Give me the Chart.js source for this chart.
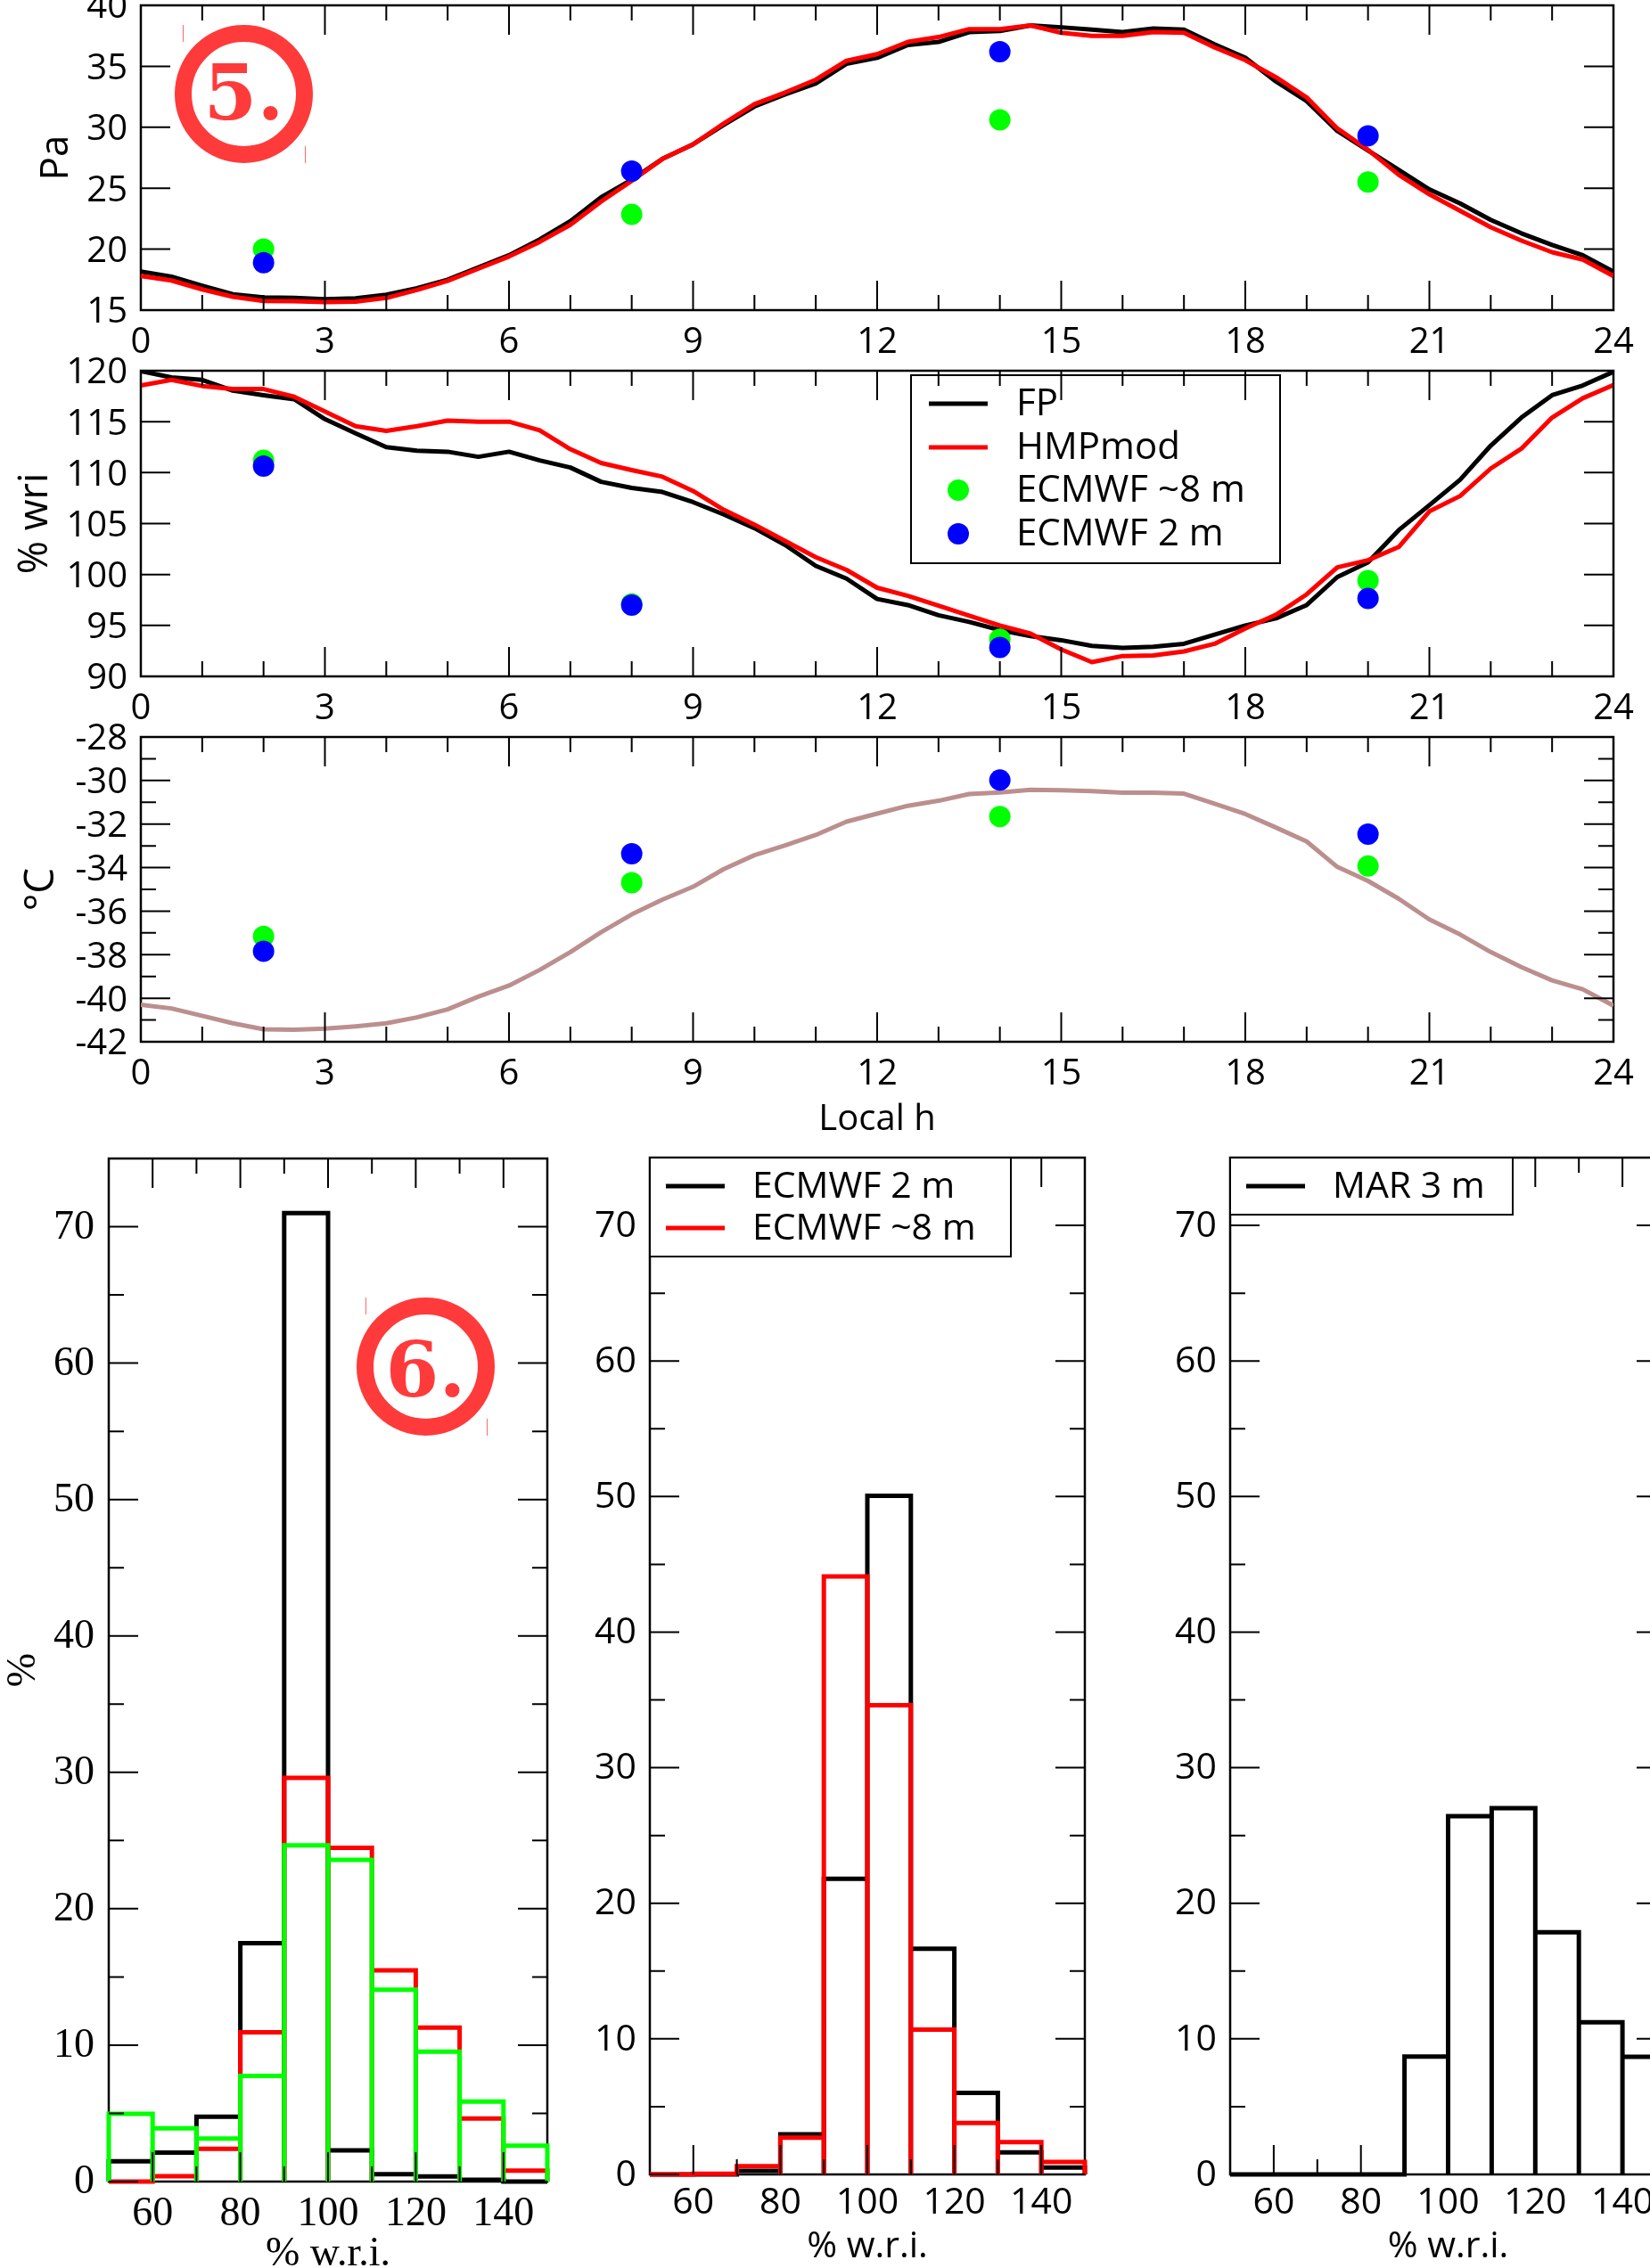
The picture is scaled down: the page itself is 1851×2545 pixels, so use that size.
<!DOCTYPE html>
<html>
<head>
<meta charset="utf-8">
<title>Diurnal cycle and histograms</title>
<script src="https://cdn.jsdelivr.net/npm/chart.js@4"></script>
<style>
    html, body { margin: 0; padding: 0; background: #fff; width: 1851px; height: 2545px; overflow: hidden; }
    canvas { position: absolute; }
    .badge {
        position: absolute; width: 155px; height: 155px; box-sizing: border-box;
        border: 19px solid #ff3a3a; border-radius: 50%; color: #ff3a3a;
        font: bold 86px "DejaVu Serif"; text-align: center;
    }
    .mark { position: absolute; width: 1px; height: 19px; background: #ff6a6a; }
</style>
</head>
<body>
<div class="badge" style="left:196px;top:28px;line-height:113px">5.</div>
<div class="mark" style="left:205px;top:28px"></div>
<div class="mark" style="left:342px;top:164px"></div>
<div class="badge" style="left:400px;top:1456px;line-height:123px">6.</div>
<div class="mark" style="left:410px;top:1456px"></div>
<div class="mark" style="left:546px;top:1592px"></div>
<script>
// half hourly series
const hours = [0,0.5,1,1.5,2,2.5,3,3.5,4,4.5,5,5.5,6,6.5,7,7.5,8,8.5,9,9.5,10,10.5,11,11.5,12,12.5,13,13.5,14,14.5,15,15.5,16,16.5,17,17.5,18,18.5,19,19.5,20,20.5,21,21.5,22,22.5,23,23.5,24];
const ecmwfHours = [2,8,14,20];

const paFP = [18.16,17.75,17.0,16.3,16.05,16.0,15.9,15.97,16.27,16.8,17.5,18.5,19.5,20.8,22.3,24.25,25.7,27.4,28.6,30.2,31.7,32.7,33.6,35.2,35.7,36.75,37.0,37.8,37.9,38.35,38.2,38.0,37.8,38.1,38.0,36.8,35.7,33.75,32.15,29.7,28.1,26.5,24.9,23.75,22.4,21.3,20.35,19.5,18.15];
const paHMP = [17.8,17.43,16.7,16.1,15.75,15.73,15.66,15.7,16.0,16.65,17.4,18.4,19.4,20.6,22.0,23.9,25.6,27.4,28.6,30.3,31.9,32.85,33.9,35.45,36.0,37.0,37.4,38.05,38.05,38.35,37.75,37.5,37.5,37.8,37.75,36.55,35.5,34.1,32.45,29.9,28.15,26.1,24.5,23.15,21.8,20.7,19.75,19.15,17.8];
const paGreen = [20.0,22.85,30.6,25.5];
const paBlue = [18.9,26.4,36.2,29.3];

const rhFP = [119.95,119.35,119.1,118.05,117.6,117.2,115.25,113.85,112.5,112.15,112.05,111.55,112.05,111.2,110.5,109.1,108.5,108.1,107.1,105.9,104.55,102.9,100.85,99.6,97.6,97.0,96.0,95.35,94.55,93.95,93.55,93.0,92.8,92.9,93.2,94.1,95.0,95.7,97.0,99.75,101.2,104.35,106.8,109.3,112.65,115.4,117.6,118.55,119.9];
const rhHMP = [118.55,119.1,118.5,118.2,118.2,117.45,116.0,114.55,114.1,114.55,115.1,115.0,115.0,114.15,112.3,110.95,110.25,109.6,108.2,106.35,104.9,103.3,101.7,100.45,98.7,97.9,96.95,95.95,95.0,94.2,92.65,91.4,92.0,92.05,92.45,93.2,94.7,96.05,98.05,100.7,101.4,102.7,106.2,107.7,110.4,112.35,115.4,117.3,118.6];
const rhGreen = [111.2,97.1,93.65,99.4];
const rhBlue = [110.65,97.0,92.85,97.65];

const tempFP = [-40.3,-40.47,-40.81,-41.15,-41.43,-41.45,-41.4,-41.29,-41.15,-40.88,-40.51,-39.93,-39.42,-38.7,-37.88,-36.97,-36.15,-35.47,-34.88,-34.07,-33.43,-32.98,-32.5,-31.89,-31.52,-31.16,-30.93,-30.62,-30.55,-30.43,-30.45,-30.49,-30.56,-30.56,-30.6,-31.07,-31.54,-32.16,-32.8,-33.97,-34.61,-35.43,-36.38,-37.07,-37.88,-38.57,-39.18,-39.59,-40.34];
const tempGreen = [-37.16,-34.69,-31.65,-33.93];
const tempBlue = [-37.84,-33.36,-29.98,-32.46];

// histograms, 10 % w.r.i. bins from 50 to 150
const binEdges = [50,60,70,80,90,100,110,120,130,140,150];
const histAFP = [1.48,2.12,4.76,17.47,71.0,2.28,0.54,0.38,0.13,0];
const histAHMP = [0,0.4,2.4,10.94,29.6,24.46,15.48,11.29,4.62,0.8];
const histAGreen = [4.97,3.9,3.15,7.74,24.65,23.58,14.06,9.52,5.86,2.63];
const histB2m = [0,0,0.27,2.95,21.8,50.05,16.64,6.02,1.63,0.51];
const histB8m = [0,0.05,0.6,2.71,44.1,34.6,10.68,3.79,2.38,0.92];
const histCMar = [0,0,0,0,8.7,26.42,27.02,17.86,11.22,8.67];

// tick labels
const hourMajor = [0,3,6,9,12,15,18,21,24];
const hourMinor = [1,2,4,5,7,8,10,11,13,14,16,17,19,20,22,23];
const paTicks = [15,20,25,30,35,40];
const rhTicks = [90,95,100,105,110,115,120];
const tempMajor = [-42,-40,-38,-36,-34,-32,-30,-28];
const tempMinor = [-41,-39,-37,-35,-33,-31,-29];
const wriMajor = [60,80,100,120,140];
const wriMinor = [70,90,110,130];
const pctMajor = [0,10,20,30,40,50,60,70];
const pctMinor = [5,15,25,35,45,55,65];

const legendLabels = ['FP','HMPmod','ECMWF ~8 m','ECMWF 2 m'];
const legendLabelsB = ['ECMWF 2 m','ECMWF ~8 m'];
const legendLabelsC = ['MAR 3 m'];

const BLACK = '#000000', RED = '#ff0000', GREEN = '#00ff00', BLUE = '#0000ff', ROSY = '#bc8f8f';
const SANS = '"Open Sans"', SERIF = '"Liberation Serif"';

// line through the half hourly values
function lineSet(label, values, color, order) {
    return {
        label: label, order: order, showLine: true, pointRadius: 0,
        data: hours.map((h, i) => ({ x: h, y: values[i] })),
        borderColor: color, borderWidth: 5, borderJoinStyle: 'round'
    };
}

function dotSet(label, values, color, order) {
    return {
        label: label, order: order, showLine: false, pointRadius: 12, pointBorderWidth: 0,
        data: ecmwfHours.map((h, i) => ({ x: h, y: values[i] })),
        backgroundColor: color, borderColor: color, clip: false
    };
}

// outline of a histogram with the drop lines between the bins
function histSet(label, values, color, order) {
    const points = [{ x: binEdges[0], y: 0 }];
    values.forEach((v, i) => {
        points.push({ x: binEdges[i], y: v }, { x: binEdges[i + 1], y: v }, { x: binEdges[i + 1], y: 0 });
    });
    return {
        label: label, order: order, showLine: true, pointRadius: 0, data: points,
        borderColor: color, borderWidth: 5, borderJoinStyle: 'miter', clip: false
    };
}

// frame, inward ticks on the four sides and the boxed legend
const framePlugin = {
    id: 'frame',
    beforeDatasetsDraw(chart, args, opts) {
        const a = chart.chartArea, ctx = chart.ctx;
        ctx.save();
        ctx.strokeStyle = BLACK;
        ctx.lineWidth = 2.5;
        ctx.strokeRect(a.left, a.top, a.right - a.left, a.bottom - a.top);
        ctx.restore();
    },
    afterDatasetsDraw(chart, args, opts) {
        const a = chart.chartArea, ctx = chart.ctx;
        const xs = chart.scales.x, ys = chart.scales.y;
        ctx.save();
        ctx.strokeStyle = BLACK;
        ctx.lineWidth = 2;
        function xTicks(list, len) {
            list.forEach(v => {
                const p = xs.getPixelForValue(v);
                ctx.beginPath();
                ctx.moveTo(p, a.top); ctx.lineTo(p, a.top + len);
                ctx.moveTo(p, a.bottom); ctx.lineTo(p, a.bottom - len);
                ctx.stroke();
            });
        }
        function yTicks(list, len) {
            list.forEach(v => {
                const p = ys.getPixelForValue(v);
                ctx.beginPath();
                ctx.moveTo(a.left, p); ctx.lineTo(a.left + len, p);
                ctx.moveTo(a.right, p); ctx.lineTo(a.right - len, p);
                ctx.stroke();
            });
        }
        xTicks(opts.xMajor, 33);
        xTicks(opts.xMinor, 17);
        yTicks(opts.yMajor, 33);
        yTicks(opts.yMinor, 17);
        ctx.restore();
        if (opts.legend) drawLegend(chart, opts.legend);
    }
};

function drawLegend(chart, lg) {
    const ctx = chart.ctx, a = chart.chartArea;
    const x = a.left + lg.dx, y = a.top + lg.dy;
    ctx.save();
    if (lg.fill) {
        ctx.fillStyle = '#fff';
        ctx.fillRect(x, y, lg.w, lg.h);
    }
    ctx.strokeStyle = BLACK;
    ctx.lineWidth = 2;
    ctx.strokeRect(x, y, lg.w, lg.h);
    ctx.font = lg.size + 'px ' + SANS;
    ctx.textBaseline = 'middle';
    lg.labels.forEach((text, i) => {
        const item = lg.items[i], yy = y + lg.rows[i];
        if (item.dot) {
            ctx.fillStyle = item.color;
            ctx.beginPath();
            ctx.arc(x + lg.lineX + lg.lineW / 2, yy, 12, 0, Math.PI * 2);
            ctx.fill();
        } else {
            ctx.strokeStyle = item.color;
            ctx.lineWidth = 5;
            ctx.beginPath();
            ctx.moveTo(x + lg.lineX, yy);
            ctx.lineTo(x + lg.lineX + lg.lineW, yy);
            ctx.stroke();
        }
        ctx.fillStyle = BLACK;
        ctx.fillText(text, x + lg.textX, yy + 1);
    });
    ctx.restore();
}

function makePanel(p) {
    const canvas = document.createElement('canvas');
    const box = p.box, plot = p.plot;
    canvas.width = box.w;
    canvas.height = box.h;
    canvas.style.left = box.x + 'px';
    canvas.style.top = box.y + 'px';
    document.body.insertBefore(canvas, document.body.firstChild);
    const font = { family: p.family, size: p.size };
    const lineH = p.size * 1.2;
    return new Chart(canvas, {
        type: 'scatter',
        data: { datasets: p.datasets },
        plugins: [framePlugin],
        options: {
            responsive: false,
            animation: false,
            devicePixelRatio: 1,
            layout: { autoPadding: false, padding: { left: 0, bottom: 0, top: plot.top - box.y, right: box.x + box.w - plot.right } },
            plugins: {
                legend: { display: false },
                tooltip: { enabled: false },
                frame: { xMajor: p.xMajor, xMinor: p.xMinor, yMajor: p.yMajor, yMinor: p.yMinor, legend: p.legend }
            },
            scales: {
                x: {
                    type: 'linear', min: p.xMin, max: p.xMax,
                    grid: { display: false, drawTicks: false }, border: { display: false },
                    afterBuildTicks: s => { s.ticks = p.xLabels.map(v => ({ value: v })); },
                    afterFit: s => { s.height = box.y + box.h - plot.bottom; s.paddingLeft = 0; s.paddingRight = 0; },
                    ticks: { autoSkip: false, maxRotation: 0, minRotation: 0, color: BLACK, font: font, padding: p.xPad, callback: v => String(v) },
                    title: p.xTitle ? {
                        display: true, text: p.xTitle, color: BLACK, font: font,
                        padding: { top: 0, bottom: box.y + box.h - p.xTitleY - lineH / 2 }
                    } : { display: false }
                },
                y: {
                    type: 'linear', min: p.yMin, max: p.yMax,
                    grid: { display: false, drawTicks: false }, border: { display: false },
                    afterBuildTicks: s => { s.ticks = p.yMajor.map(v => ({ value: v })); },
                    afterFit: s => { s.width = plot.left - box.x; s.paddingTop = 0; s.paddingBottom = 0; },
                    ticks: { autoSkip: false, color: BLACK, font: font, padding: p.yPad, labelOffset: p.yLabelOffset, callback: v => String(v) },
                    title: p.yTitle ? {
                        display: true, text: p.yTitle, color: BLACK, font: { family: p.family, size: p.yTitleSize || p.size },
                        padding: { top: p.yTitleX - box.x - (p.yTitleSize || p.size) * 0.6, bottom: 0 }
                    } : { display: false }
                }
            }
        }
    });
}

const topCommon = {
    family: SANS, size: 40, xMin: 0, xMax: 24, xLabels: hourMajor, xMajor: hourMajor, xMinor: hourMinor, xPad: 13, yPad: 15, yLabelOffset: 3
};

makePanel(Object.assign({}, topCommon, {
    box: { x: 0, y: 0, w: 1851, h: 410 },
    plot: { left: 158, right: 1810, top: 6, bottom: 348 },
    yMin: 15, yMax: 40, yMajor: paTicks, yMinor: [],
    yTitle: 'Pa', yTitleX: 63, yTitleSize: 44,
    datasets: [
        lineSet('FP', paFP, BLACK, 4), lineSet('HMPmod', paHMP, RED, 3),
        dotSet('ECMWF ~8 m', paGreen, GREEN, 2), dotSet('ECMWF 2 m', paBlue, BLUE, 1)
    ]
}));

makePanel(Object.assign({}, topCommon, {
    box: { x: 0, y: 380, w: 1851, h: 440 },
    plot: { left: 158, right: 1810, top: 416, bottom: 759 },
    yMin: 90, yMax: 120, yMajor: rhTicks, yMinor: [],
    yTitle: '% wri', yTitleX: 40, yTitleSize: 45,
    legend: {
        labels: legendLabels, dx: 864, dy: 5, w: 414, h: 211, fill: false, size: 42,
        lineX: 20, lineW: 66, textX: 118, rows: [32, 81, 129, 178],
        items: [{ color: BLACK }, { color: RED }, { color: GREEN, dot: true }, { color: BLUE, dot: true }]
    },
    datasets: [
        lineSet('FP', rhFP, BLACK, 4), lineSet('HMPmod', rhHMP, RED, 3),
        dotSet('ECMWF ~8 m', rhGreen, GREEN, 2), dotSet('ECMWF 2 m', rhBlue, BLUE, 1)
    ]
}));

makePanel(Object.assign({}, topCommon, {
    box: { x: 0, y: 790, w: 1851, h: 490 },
    plot: { left: 158, right: 1810, top: 827, bottom: 1169 },
    yMin: -42, yMax: -28, yMajor: tempMajor, yMinor: tempMinor,
    yTitle: '°C', yTitleX: 47, yTitleSize: 46,
    xTitle: 'Local h', xTitleY: 1257,
    datasets: [
        lineSet('FP', tempFP, ROSY, 3),
        dotSet('ECMWF ~8 m', tempGreen, GREEN, 2), dotSet('ECMWF 2 m', tempBlue, BLUE, 1)
    ]
}));

const histCommon = {
    xMin: 50, xMax: 150, xLabels: wriMajor, xMajor: wriMajor, xMinor: wriMinor,
    yMin: 0, yMax: 75, yMajor: pctMajor, yMinor: pctMinor, xTitle: '% w.r.i.', yLabelOffset: 1
};

makePanel(Object.assign({}, histCommon, {
    family: SERIF, size: 46, xPad: 9, yPad: 16,
    box: { x: 0, y: 1270, w: 640, h: 1275 },
    plot: { left: 122, right: 614, top: 1300, bottom: 2448 },
    xTitleY: 2530, yTitle: '%', yTitleX: 27,
    datasets: [
        histSet('FP', histAFP, BLACK, 3), histSet('HMPmod', histAHMP, RED, 2), histSet('ECMWF ~8 m', histAGreen, GREEN, 1)
    ]
}));

makePanel(Object.assign({}, histCommon, {
    family: SANS, size: 41, xPad: 8, yPad: 15,
    box: { x: 640, y: 1270, w: 620, h: 1275 },
    plot: { left: 729, right: 1217, top: 1299, bottom: 2440 },
    xTitleY: 2521,
    legend: {
        labels: legendLabelsB, dx: 0, dy: 0, w: 405, h: 111, fill: true, size: 41,
        lineX: 18, lineW: 66, textX: 115, rows: [32, 79],
        items: [{ color: BLACK }, { color: RED }]
    },
    datasets: [
        histSet('ECMWF 2 m', histB2m, BLACK, 2), histSet('ECMWF ~8 m', histB8m, RED, 1)
    ]
}));

makePanel(Object.assign({}, histCommon, {
    family: SANS, size: 41, xPad: 8, yPad: 15,
    box: { x: 1290, y: 1270, w: 640, h: 1275 },
    plot: { left: 1380, right: 1869, top: 1299, bottom: 2440 },
    xTitleY: 2521,
    legend: {
        labels: legendLabelsC, dx: 0, dy: 0, w: 317, h: 64, fill: true, size: 41,
        lineX: 18, lineW: 66, textX: 115, rows: [32],
        items: [{ color: BLACK }]
    },
    datasets: [
        histSet('MAR 3 m', histCMar, BLACK, 1)
    ]
}));
</script>
</body>
</html>
